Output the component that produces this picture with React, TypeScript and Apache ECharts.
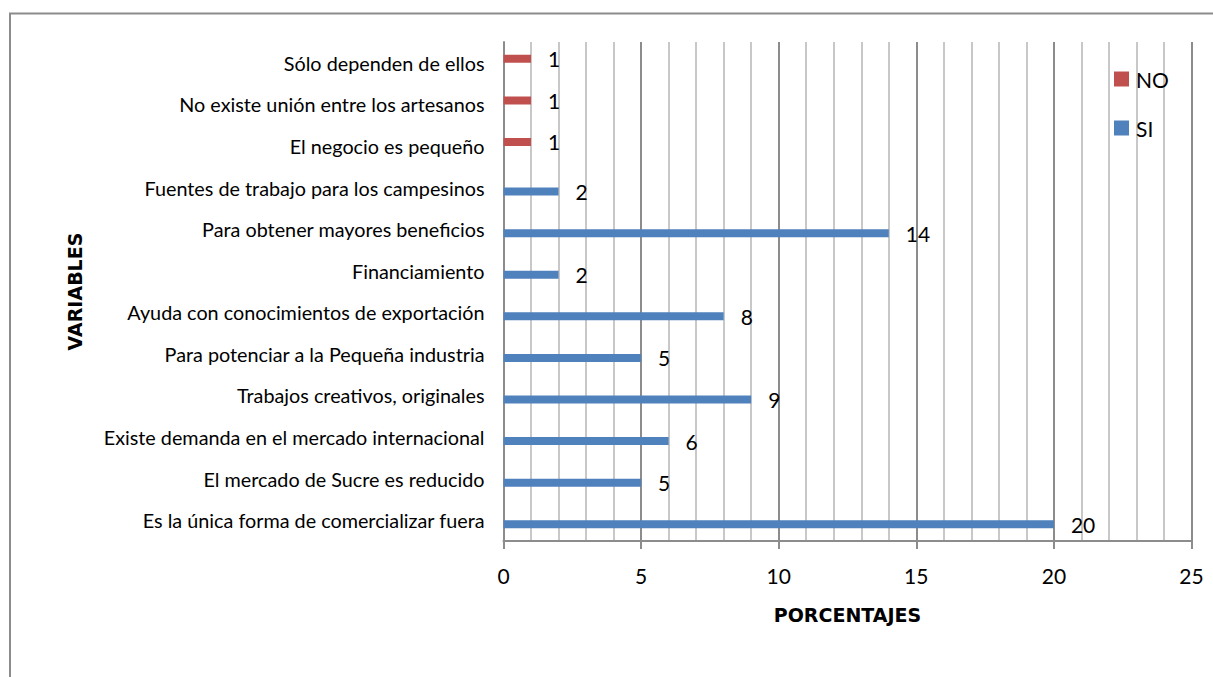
import React, { useEffect, useRef } from "react";
import * as echarts from "echarts";

const categories = [
  "Es la única forma de comercializar fuera",
  "El mercado de Sucre es reducido",
  "Existe demanda en el mercado internacional",
  "Trabajos creativos, originales",
  "Para potenciar a la Pequeña industria",
  "Ayuda con conocimientos de exportación",
  "Financiamiento",
  "Para obtener mayores beneficios",
  "Fuentes de trabajo para los campesinos",
  "El negocio es pequeño",
  "No existe unión entre los artesanos",
  "Sólo dependen de ellos",
];
const siValues: (number | string)[] = [20, 5, 6, 9, 5, 8, 2, 14, 2, "-", "-", "-"];
const noValues: (number | string)[] = ["-", "-", "-", "-", "-", "-", "-", "-", "-", 1, 1, 1];
const xTicks = { min: 0, max: 25, interval: 5 };

const FONT = "Lato";
const BOLD_FONT = "DejaVu Sans";

export default function App() {
  const ref = useRef<HTMLDivElement>(null);
  useEffect(() => {
    document.body.style.margin = "0";
    const chart = echarts.init(ref.current!, null, { renderer: "svg" });
    const label = {
      show: true,
      position: "right" as const,
      distance: 17,
      fontSize: 21,
      color: "#000",
      fontFamily: FONT,
    };
    chart.setOption({
      animation: false,
      backgroundColor: "#fff",
      textStyle: { fontFamily: FONT },
      graphic: [
        {
          type: "rect",
          shape: { x: 10, y: 13.5, width: 1230, height: 700 },
          style: { fill: "none", stroke: "#8c8c8c", lineWidth: 2 },
          silent: true,
        },
      ],
      legend: {
        orient: "vertical",
        left: 1109,
        top: 63.5,
        itemWidth: 15,
        itemHeight: 15,
        itemGap: 28,
        icon: "rect",
        data: ["NO", "SI"],
        textStyle: {
          fontSize: 21,
          lineHeight: 15,
          color: "#000",
          fontFamily: FONT,
          padding: [0, 0, 0, 2],
        },
      },
      grid: { left: 503.5, right: 21.5, top: 42, bottom: 136, containLabel: false },
      xAxis: {
        type: "value",
        min: xTicks.min,
        max: xTicks.max,
        interval: xTicks.interval,
        name: "PORCENTAJES",
        nameLocation: "middle",
        nameGap: 64,
        nameTextStyle: { fontSize: 19, fontWeight: "bold", color: "#000", fontFamily: BOLD_FONT },
        axisLine: { show: true, lineStyle: { color: "#8c8c8c", width: 2 } },
        axisTick: { show: true, length: 8, lineStyle: { color: "#8c8c8c", width: 2 } },
        axisLabel: { fontSize: 21, color: "#000", margin: 24, fontFamily: FONT },
        splitLine: { show: true, lineStyle: { color: "#8c8c8c", width: 2 } },
        minorTick: { show: false, splitNumber: 5 },
        minorSplitLine: { show: true, lineStyle: { color: "#c8c8c8", width: 2 } },
      },
      yAxis: {
        type: "category",
        data: categories,
        name: "VARIABLES",
        nameLocation: "middle",
        nameGap: 419,
        nameRotate: 90,
        nameTextStyle: { fontSize: 19, fontWeight: "bold", color: "#000", fontFamily: BOLD_FONT },
        axisLine: { show: true, lineStyle: { color: "#8c8c8c", width: 2 } },
        axisTick: { show: false },
        axisLabel: { fontSize: 19.8, color: "#000", margin: 19, fontFamily: FONT },
        splitLine: { show: false },
      },
      series: [
        {
          name: "NO",
          type: "bar",
          data: noValues,
          barWidth: 8,
          barGap: "0%",
          itemStyle: { color: "#C0504D" },
          label,
        },
        {
          name: "SI",
          type: "bar",
          data: siValues,
          barWidth: 8,
          barGap: "0%",
          itemStyle: { color: "#4F81BD" },
          label,
        },
      ],
    });
    return () => chart.dispose();
  }, []);
  return (
    <div
      ref={ref}
      style={{ position: "fixed", left: 0, top: 0, width: 1213, height: 677 }}
    />
  );
}
